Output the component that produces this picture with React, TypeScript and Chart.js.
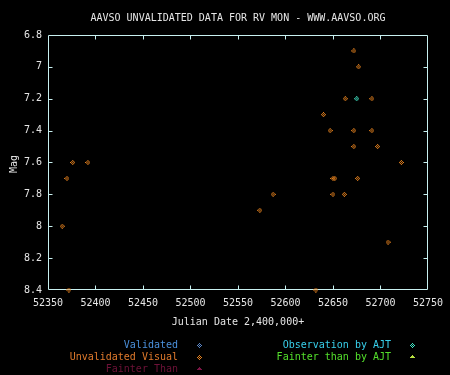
import { useEffect, useRef } from 'react';
import { Chart, registerables } from 'chart.js';

Chart.register(...registerables);

const TITLE = 'AAVSO UNVALIDATED DATA FOR RV MON - WWW.AAVSO.ORG';
const X_TITLE = 'Julian Date 2,400,000+';
const Y_TITLE = 'Mag';

const X_TICKS = [52350, 52400, 52450, 52500, 52550, 52600, 52650, 52700, 52750];
const Y_TICKS = [6.8, 7, 7.2, 7.4, 7.6, 7.8, 8, 8.2, 8.4];

// Unvalidated visual observations (Julian Date - 2,400,000 ; magnitude)
const unvalidatedJD = [
  52365, 52370, 52376, 52392, 52372,
  52672, 52677, 52663, 52691, 52640,
  52647, 52672, 52691, 52672, 52697,
  52722, 52650, 52652, 52676, 52587,
  52650, 52662, 52573, 52708, 52632,
];
const unvalidatedMag = [
  8.0, 7.7, 7.6, 7.6, 8.4,
  6.9, 7.0, 7.2, 7.2, 7.3,
  7.4, 7.4, 7.4, 7.5, 7.5,
  7.6, 7.7, 7.7, 7.7, 7.8,
  7.8, 7.8, 7.9, 8.1, 8.4,
];

// Observations by AJT
const ajtJD = [52675];
const ajtMag = [7.2];

const LEGEND_LEFT = ['Validated', 'Unvalidated Visual', 'Fainter Than'];
const LEGEND_RIGHT = ['Observation by AJT', 'Fainter than by AJT'];

const FONT = '"DejaVu Sans Mono", "Liberation Mono", monospace';
const TEXT = '#e6e6e6';
const AXIS = '#c8f0f0';
const ORANGE = '#e4801e';
const CYAN = '#40e8c8';

function makeDiamond(color: string): HTMLCanvasElement {
  const c = document.createElement('canvas');
  c.width = 5;
  c.height = 5;
  const g = c.getContext('2d')!;
  g.fillStyle = color;
  const pattern = ['..X..', '.X.X.', 'X.X.X', '.X.X.', '..X..'];
  pattern.forEach((row, y) => {
    for (let x = 0; x < row.length; x++) if (row[x] === 'X') g.fillRect(x, y, 1, 1);
  });
  return c;
}

function makeTriangle(color: string): HTMLCanvasElement {
  const c = document.createElement('canvas');
  c.width = 5;
  c.height = 4;
  const g = c.getContext('2d')!;
  g.fillStyle = color;
  const pattern = ['..X..', '.XXX.', 'XXXXX', '.....'];
  pattern.forEach((row, y) => {
    for (let x = 0; x < row.length; x++) if (row[x] === 'X') g.fillRect(x, y, 1, 1);
  });
  return c;
}

export default function App() {
  const ref = useRef<HTMLCanvasElement>(null);

  useEffect(() => {
    const canvas = ref.current!;
    const orangeD = makeDiamond(ORANGE);
    const cyanD = makeDiamond(CYAN);
    const blueD = makeDiamond('#5a86c8');
    const maroonT = makeTriangle('#7a1444');
    const greenT = makeTriangle('#b8e040');

    const frame = {
      id: 'frame',
      beforeDraw(chart: any) {
        const ctx = chart.ctx;
        ctx.save();
        ctx.fillStyle = '#000';
        ctx.fillRect(0, 0, chart.width, chart.height);
        ctx.restore();
      },
      beforeDatasetsDraw(chart: any) {
        const { ctx, chartArea: a, scales } = chart;
        const L = Math.round(a.left) + 0.5;
        const R = Math.round(a.right) - 0.5;
        const T = Math.round(a.top) + 0.5;
        const B = Math.round(a.bottom) - 0.5;
        ctx.save();
        ctx.strokeStyle = AXIS;
        ctx.lineWidth = 1;
        ctx.beginPath();
        ctx.rect(L, T, R - L, B - T);
        const tl = 4;
        X_TICKS.slice(1, -1).forEach((v) => {
          const x = Math.round(scales.x.getPixelForValue(v)) + 0.5;
          ctx.moveTo(x, T);
          ctx.lineTo(x, T + tl);
          ctx.moveTo(x, B);
          ctx.lineTo(x, B - tl);
        });
        Y_TICKS.slice(1, -1).forEach((v) => {
          const y = Math.round(scales.y.getPixelForValue(v)) + 0.5;
          ctx.moveTo(L, y);
          ctx.lineTo(L + tl, y);
          ctx.moveTo(R, y);
          ctx.lineTo(R - tl, y);
        });
        ctx.stroke();
        ctx.restore();
      },
      afterDraw(chart: any) {
        const { ctx, chartArea: a } = chart;
        ctx.save();
        ctx.font = `10px ${FONT}`;
        ctx.textBaseline = 'middle';
        ctx.fillStyle = TEXT;
        ctx.textAlign = 'center';
        const cx = (a.left + a.right) / 2;
        ctx.fillText(TITLE, cx, 18.5);
        ctx.fillText(X_TITLE, cx, 322);
        ctx.save();
        ctx.translate(14, 164);
        ctx.rotate(-Math.PI / 2);
        ctx.fillText(Y_TITLE, 0, 0);
        ctx.restore();

        const rows = [345, 357, 369];
        const leftColors = ['#4a90dc', '#e07a2c', '#6e1238'];
        const leftMarks = [blueD, orangeD, maroonT];
        ctx.textAlign = 'right';
        LEGEND_LEFT.forEach((t, i) => {
          ctx.fillStyle = leftColors[i];
          ctx.fillText(t, 178, rows[i]);
          const m = leftMarks[i];
          ctx.drawImage(m, 197, rows[i] - 2);
        });
        const rightColors = ['#38d0ec', '#54e02c'];
        const rightMarks = [cyanD, greenT];
        LEGEND_RIGHT.forEach((t, i) => {
          ctx.fillStyle = rightColors[i];
          ctx.fillText(t, 391, rows[i]);
          ctx.drawImage(rightMarks[i], 410, rows[i] - 2);
        });
        ctx.restore();
      },
    };

    const chart = new Chart(canvas, {
      type: 'scatter',
      data: {
        datasets: [
          {
            label: 'Unvalidated Visual',
            data: unvalidatedJD.map((x, i) => ({ x, y: unvalidatedMag[i] })),
            pointStyle: orangeD as any,
            clip: false as any,
          },
          {
            label: 'Observation by AJT',
            data: ajtJD.map((x, i) => ({ x, y: ajtMag[i] })),
            pointStyle: cyanD as any,
            clip: false as any,
          },
        ],
      },
      options: {
        responsive: false,
        animation: false,
        devicePixelRatio: 1,
        events: [],
        layout: { padding: { top: 35, right: 18, left: 0, bottom: 0 } },
        plugins: { legend: { display: false }, tooltip: { enabled: false }, title: { display: false } },
        scales: {
          x: {
            type: 'linear',
            min: 52350,
            max: 52750,
            afterBuildTicks: (s: any) => {
              s.ticks = X_TICKS.map((value) => ({ value }));
            },
            afterFit: (s: any) => {
              s.height = 85;
            },
            grid: { display: false, drawTicks: false, tickLength: 0 },
            border: { display: false },
            ticks: {
              color: TEXT,
              font: { family: FONT, size: 10 },
              padding: 7,
              maxRotation: 0,
              autoSkip: false,
              callback: (v: any) => String(v),
            },
          },
          y: {
            type: 'linear',
            min: 6.8,
            max: 8.4,
            reverse: true,
            afterBuildTicks: (s: any) => {
              s.ticks = Y_TICKS.map((value) => ({ value }));
            },
            afterFit: (s: any) => {
              s.width = 48;
            },
            grid: { display: false, drawTicks: false, tickLength: 0 },
            border: { display: false },
            ticks: {
              color: TEXT,
              font: { family: FONT, size: 10 },
              padding: 6,
              autoSkip: false,
              callback: (v: any) => String(Number(Number(v).toFixed(1))),
            },
          },
        },
      },
      plugins: [frame],
    });

    return () => chart.destroy();
  }, []);

  return (
    <div style={{ position: 'absolute', left: 0, top: 0, width: 450, height: 375, background: '#000' }}>
      <canvas ref={ref} width={450} height={375} style={{ display: 'block' }} />
    </div>
  );
}
